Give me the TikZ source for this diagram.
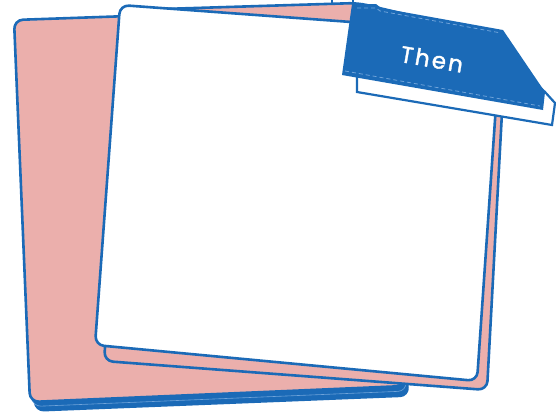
\documentclass[tikz,border=0pt]{standalone}
\usepackage{fontspec}
\newfontfamily\labelfont[LetterSpace=10,FakeBold=1.6]{Poppins}
\definecolor{cblue}{HTML}{1B6AB7}
\definecolor{cpink}{HTML}{EBAFAC}
\definecolor{clight}{HTML}{6FA3DA}
\tikzset{
  card/.style={draw=cblue, line width=2.6pt, rounded corners=9pt, line join=round},
  stackcard/.style={fill=cblue, draw=cblue, line width=1.6pt, rounded corners=9pt},
  stitch/.style={draw=clight, line width=0.8pt, dash pattern=on 4pt off 3pt},
  tagback/.style={fill=white, draw=cblue, line width=2.2pt, line join=miter},
}
\begin{document}
\begin{tikzpicture}[x=1pt,y=-1pt]
\useasboundingbox (0,0) rectangle (556,413);
% small white box peeking at top
\filldraw[tagback] (332,-6) rectangle (353,6);
% stack under the left card
\path[stackcard] (18,29) -- (364,17) -- (409,396) -- (35,411) -- cycle;
\path[stackcard, draw=clight, line width=0.6pt] (16,24.5) -- (362,12.5) -- (407,391) -- (32,406.5) -- cycle;
% card A (left pink)
\path[card, fill=cpink] (14,20) -- (360,8) -- (405,386) -- (30,402) -- cycle;
% card B (pink behind white)
\path[card, fill=cpink] (130,10) -- (358,3) -- (506,38) -- (487,390) -- (104,361) -- cycle;
% card C (white)
\path[card, fill=white] (120,5) -- (501,33) -- (477,381) -- (95,345) -- cycle;
% white back box of the tag
\path[tagback] (357,50) -- (500,50) -- (545,92) -- (555,103) -- (552,125) -- (357,92) -- cycle;
% blue tag
\path[fill=cblue] (352,4) -- (376,4) -- (381,8) -- (503,30) -- (545,92) -- (543,110) -- (342,75) -- cycle;
\draw[stitch] (357,8) -- (376,8) -- (380,11) -- (501,33);
\draw[stitch] (345,71) -- (540,106);
\node[text=white, font=\labelfont\fontsize{23}{27}\selectfont, rotate=-10] (tag) at (432,59) {Then};
\end{tikzpicture}
\end{document}
